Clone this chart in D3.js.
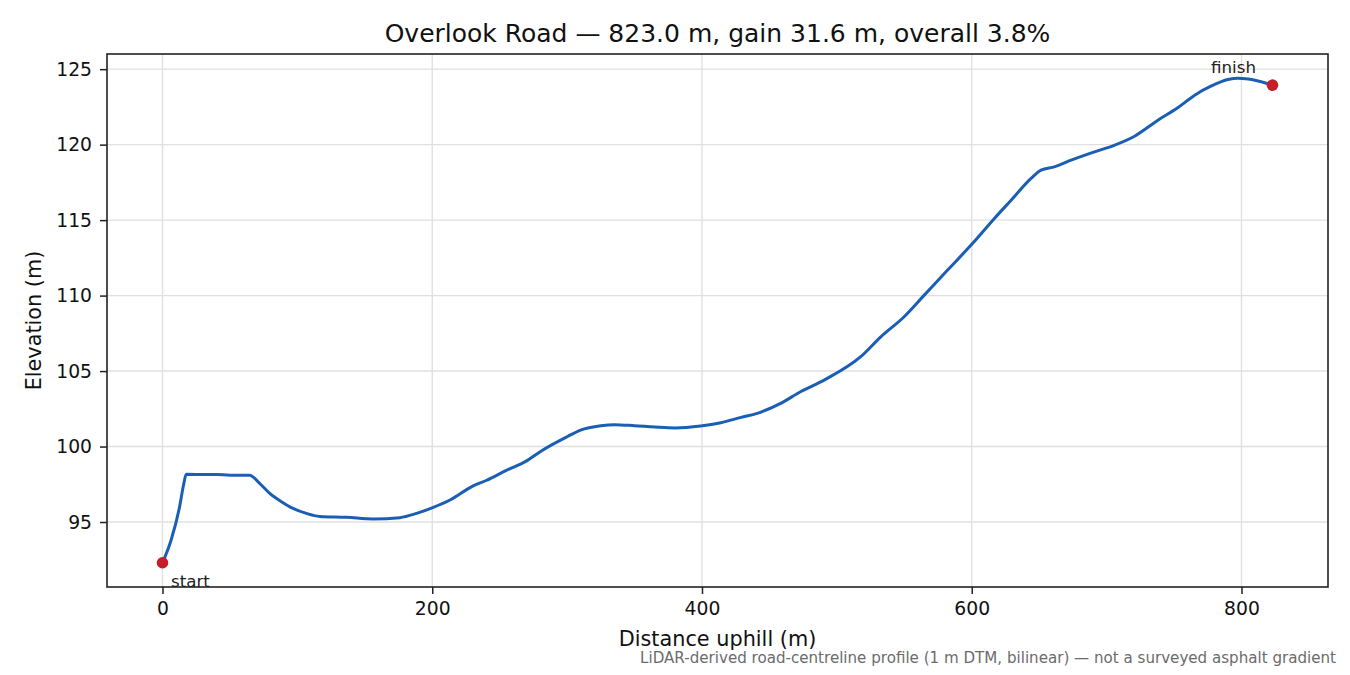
<!DOCTYPE html>
<html>
<head>
<meta charset="utf-8">
<script src="https://cdn.jsdelivr.net/npm/d3@7"></script>
<style>
  html, body { margin: 0; padding: 0; background: #fff; }
  svg { display: block; font-family: "DejaVu Sans", sans-serif; }
</style>
</head>
<body>
<svg id="chart" width="1350" height="675"></svg>
<script>
// ---- data ----
const distance = [0, 6.4, 12.6, 15.6, 17.6, 30, 40, 50, 64.6, 72, 79.5, 88.2, 96.8, 106.7, 116.6, 136.4, 156.2, 176, 188.4, 200.8, 213.2, 230, 240, 255.3, 270, 280, 300, 310, 325, 335, 350, 365, 380, 399, 414, 429, 441, 458.3, 473, 490.5, 517.7, 532.6, 549.9, 564.8, 582.1, 600.7, 616.8, 629.2, 644, 651.4, 661.3, 673.7, 691, 706, 720.7, 738, 753, 765.3, 777.7, 790, 797.5, 810, 823];
const elevation = [92.3, 93.81, 95.97, 97.45, 98.16, 98.15, 98.15, 98.1, 98.1, 97.56, 96.9, 96.35, 95.9, 95.57, 95.37, 95.31, 95.2, 95.29, 95.57, 95.97, 96.46, 97.38, 97.75, 98.44, 99.05, 99.66, 100.65, 101.09, 101.38, 101.45, 101.38, 101.29, 101.23, 101.36, 101.58, 101.93, 102.2, 102.86, 103.63, 104.4, 105.95, 107.27, 108.6, 110.03, 111.69, 113.46, 115.11, 116.32, 117.76, 118.31, 118.53, 118.97, 119.52, 119.97, 120.56, 121.62, 122.46, 123.28, 123.89, 124.32, 124.4, 124.27, 123.94];
const xTicks = [0, 200, 400, 600, 800];
const yTicks = [95, 100, 105, 110, 115, 120, 125];
const endLabels = ["start", "finish"];
const titleText = "Overlook Road \u2014 823.0 m, gain 31.6 m, overall 3.8%";
const xLabel = "Distance uphill (m)";
const yLabel = "Elevation (m)";
const footnote = "LiDAR-derived road-centreline profile (1 m DTM, bilinear) \u2014 not a surveyed asphalt gradient";

// ---- layout ----
const W = 1350, H = 675;
const m = { left: 107, right: 1328, top: 54, bottom: 587 };
const svg = d3.select("#chart");

const xMin = d3.min(distance), xMax = d3.max(distance);
const yMin = d3.min(elevation), yMax = d3.max(elevation);
const xPad = (xMax - xMin) * 0.05, yPad = (yMax - yMin) * 0.05;
const x = d3.scaleLinear().domain([xMin - xPad, xMax + xPad]).range([m.left, m.right]);
const y = d3.scaleLinear().domain([yMin - yPad, yMax + yPad]).range([m.bottom, m.top]);

// grid
const grid = svg.append("g");
grid.selectAll("line.gx").data(xTicks).join("line")
  .attr("x1", d => x(d)).attr("x2", d => x(d))
  .attr("y1", m.top).attr("y2", m.bottom)
  .attr("stroke", "#e0e0e0").attr("stroke-width", 1.4);
grid.selectAll("line.gy").data(yTicks).join("line")
  .attr("y1", d => y(d)).attr("y2", d => y(d))
  .attr("x1", m.left).attr("x2", m.right)
  .attr("stroke", "#e0e0e0").attr("stroke-width", 1.4);

// line
const pts = distance.map((d, i) => [d, elevation[i]]);
svg.append("path")
  .datum(pts)
  .attr("fill", "none")
  .attr("stroke", "#1a5fb4")
  .attr("stroke-width", 3)
  .attr("stroke-linejoin", "round")
  .attr("stroke-linecap", "round")
  .attr("d", d3.line().curve(d3.curveMonotoneX).x(d => x(d[0])).y(d => y(d[1])));

// endpoints
const ends = [pts[0], pts[pts.length - 1]];
svg.selectAll("circle.end").data(ends).join("circle")
  .attr("cx", d => x(d[0])).attr("cy", d => y(d[1]))
  .attr("r", 5.8).attr("fill", "#c41e2b");

svg.append("text")
  .attr("x", x(ends[0][0]) + 8.5).attr("y", y(ends[0][1]) + 24.5)
  .attr("font-size", 16.7).attr("fill", "#222")
  .text(endLabels[0]);
svg.append("text")
  .attr("x", x(ends[1][0]) - 39).attr("y", y(ends[1][1]) - 12)
  .attr("text-anchor", "middle")
  .attr("font-size", 16.7).attr("fill", "#222")
  .text(endLabels[1]);

// axes
const xAxis = svg.append("g").attr("transform", `translate(0,${m.bottom})`)
  .call(d3.axisBottom(x).tickValues(xTicks).tickSize(7).tickPadding(8).tickFormat(d3.format("d")));
const yAxis = svg.append("g").attr("transform", `translate(${m.left},0)`)
  .call(d3.axisLeft(y).tickValues(yTicks).tickSize(7).tickPadding(8).tickFormat(d3.format("d")));
[xAxis, yAxis].forEach(g => {
  g.select(".domain").remove();
  g.selectAll(".tick line").attr("stroke", "#222").attr("stroke-width", 1.5);
  g.selectAll(".tick text").attr("font-size", 18.75).attr("fill", "#111")
    .attr("font-family", "DejaVu Sans");
});

// frame
svg.append("rect")
  .attr("x", m.left).attr("y", m.top)
  .attr("width", m.right - m.left).attr("height", m.bottom - m.top)
  .attr("fill", "none").attr("stroke", "#222").attr("stroke-width", 1.6);

// title & labels
svg.append("text")
  .attr("x", (m.left + m.right) / 2).attr("y", 42)
  .attr("text-anchor", "middle").attr("font-size", 25).attr("fill", "#111")
  .text(titleText);
svg.append("text")
  .attr("x", (m.left + m.right) / 2).attr("y", 646)
  .attr("text-anchor", "middle").attr("font-size", 20.8).attr("fill", "#111")
  .text(xLabel);
svg.append("text")
  .attr("transform", `translate(41,${(m.top + m.bottom) / 2}) rotate(-90)`)
  .attr("text-anchor", "middle").attr("font-size", 20.8).attr("fill", "#111")
  .text(yLabel);
svg.append("text")
  .attr("x", 1336).attr("y", 663)
  .attr("text-anchor", "end").attr("font-size", 15.1).attr("fill", "#6b6b6b")
  .text(footnote);
</script>
</body>
</html>
